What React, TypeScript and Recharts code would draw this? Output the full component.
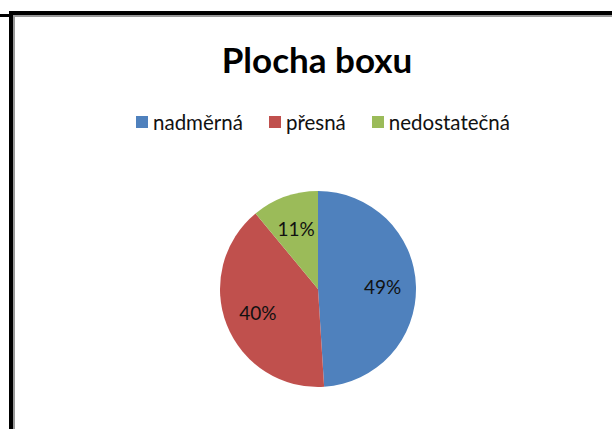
import { PieChart, Pie, Cell, Legend } from "recharts";

// Office 2007 palette, same as the source workbook.
const categories = ["nadměrná", "přesná", "nedostatečná"];
const shares = [49, 40, 11];
const colors = ["#4F81BD", "#C0504D", "#9BBB59"];

const data = categories.map((name, i) => ({ name, value: shares[i] }));

const FONT = "Lato, 'Open Sans', sans-serif";
const RAD = Math.PI / 180;

function renderLabel(props: any) {
  const { cx, cy, midAngle, outerRadius, value } = props;
  const r = outerRadius * 0.66;
  const x = cx + r * Math.cos(-midAngle * RAD);
  const y = cy + r * Math.sin(-midAngle * RAD);
  return (
    <text
      x={x}
      y={y}
      textAnchor="middle"
      dominantBaseline="central"
      fontFamily={FONT}
      fontSize={19}
      fill="#111"
    >
      {`${value}%`}
    </text>
  );
}

function renderLegend() {
  return (
    <div
      style={{
        display: "flex",
        justifyContent: "center",
        gap: 26,
        fontFamily: FONT,
        fontSize: 20.5,
        color: "#111",
        paddingLeft: 34,
      }}
    >
      {categories.map((c, i) => (
        <span key={c} style={{ display: "flex", alignItems: "center" }}>
          <span
            style={{
              width: 12,
              height: 12,
              background: colors[i],
              marginRight: 5,
              display: "inline-block",
            }}
          />
          {c}
        </span>
      ))}
    </div>
  );
}

export default function App() {
  return (
    <div
      style={{
        position: "absolute",
        left: 0,
        top: 0,
        width: 612,
        height: 429,
        background: "#fff",
        overflow: "hidden",
      }}
    >
      <svg
        width={612}
        height={429}
        style={{ position: "absolute", left: 0, top: 0 }}
      >
        {/* frame of the embedded chart object */}
        <rect x={0} y={14} width={10} height={3} fill="#000" />
        <rect x={9} y={15} width={604} height={2} fill="#999" />
        <rect x={13} y={15} width={2} height={414} fill="#999" />
        <rect x={9} y={11} width={604} height={4} fill="#000" />
        <rect x={9} y={11} width={4} height={418} fill="#000" />
        <text
          x={317}
          y={73}
          textAnchor="middle"
          fontFamily={FONT}
          fontWeight={700}
          fontSize={35}
          fill="#000"
        >
          Plocha boxu
        </text>
      </svg>
      <div style={{ position: "absolute", left: 0, top: 0 }}>
        <PieChart width={612} height={429} margin={{ top: 0, right: 0, bottom: 0, left: 0 }}>
          <Legend
            verticalAlign="bottom"
            content={renderLegend}
            wrapperStyle={{ position: "absolute", top: 110, left: 0, width: 612 }}
          />
          <Pie
            data={data}
            dataKey="value"
            nameKey="name"
            cx={318}
            cy={289}
            outerRadius={98}
            startAngle={90}
            endAngle={-270}
            stroke="none"
            label={renderLabel}
            labelLine={false}
            isAnimationActive={false}
          >
            {data.map((_, i) => (
              <Cell key={i} fill={colors[i]} />
            ))}
          </Pie>
        </PieChart>
      </div>
    </div>
  );
}
